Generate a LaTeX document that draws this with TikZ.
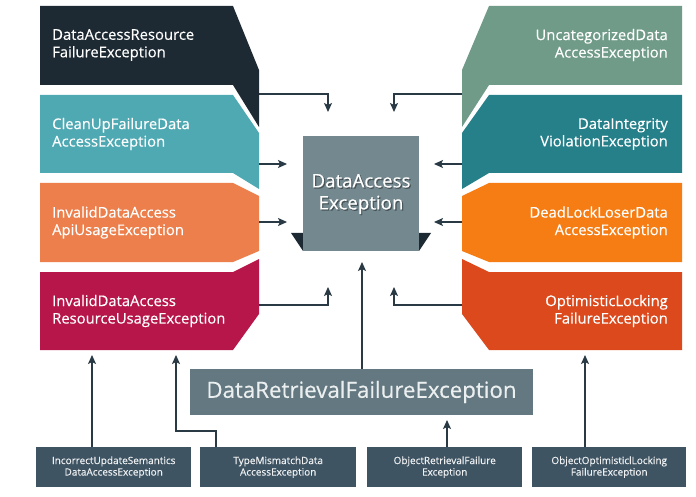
\documentclass[tikz,border=0pt]{standalone}
\usepackage{fontspec}
\setmainfont{Open Sans}[FakeBold=0.4]
\newfontfamily\boxfont{Open Sans}[FakeBold=0.35]
\usetikzlibrary{arrows.meta}
\definecolor{cLa}{HTML}{1E2A33}
\definecolor{cLb}{HTML}{4FA9B3}
\definecolor{cLc}{HTML}{EC7F4C}
\definecolor{cLd}{HTML}{B7164A}
\definecolor{cRa}{HTML}{709B88}
\definecolor{cRb}{HTML}{25808A}
\definecolor{cRc}{HTML}{F67D14}
\definecolor{cRd}{HTML}{DB491D}
\definecolor{cCenter}{HTML}{74888F}
\definecolor{cRetr}{HTML}{637880}
\definecolor{cSub}{HTML}{3E5462}
\definecolor{cLine}{HTML}{2A3A44}
\definecolor{cTri}{HTML}{1D2A33}
\tikzset{
  boxtext/.style={text=white, font=\boxfont\fontsize{14.8}{17.5}\selectfont, inner sep=0pt},
  ltext/.style={boxtext, anchor=west, align=left},
  rtext/.style={boxtext, anchor=east, align=right},
  subbox/.style={fill=cSub, text=white!92!cSub, font=\boxfont\fontsize{10}{11.5}\selectfont, align=center, inner sep=0pt, anchor=north west},
  conn/.style={draw=cLine, line width=1.4pt, -{Stealth[length=9pt,width=8pt,inset=2pt]}},
}
\begin{document}
\begin{tikzpicture}[x=1pt,y=-1pt]
\useasboundingbox (0,0) rectangle (696,497);
\fill[white] (0,0) rectangle (696,497);

% left boxes
\fill[cLa] (40,6) -- (233,6) -- (259,70) -- (259,127) -- (233,85) -- (40,85) -- cycle;
\fill[cLb] (40,95) -- (233,95) -- (259,133) -- (259,189) -- (233,173) -- (40,173) -- cycle;
\fill[cLc] (40,183) -- (233,183) -- (259,196) -- (259,251) -- (233,262) -- (40,262) -- cycle;
\fill[cLd] (40,272) -- (233,272) -- (259,259) -- (259,314) -- (233,350) -- (40,350) -- cycle;
% right boxes
\fill[cRa] (682,6) -- (489,6) -- (462,70) -- (462,127) -- (489,85) -- (682,85) -- cycle;
\fill[cRb] (682,95) -- (489,95) -- (462,133) -- (462,189) -- (489,173) -- (682,173) -- cycle;
\fill[cRc] (682,183) -- (489,183) -- (462,196) -- (462,251) -- (489,262) -- (682,262) -- cycle;
\fill[cRd] (682,272) -- (489,272) -- (462,259) -- (462,314) -- (489,350) -- (682,350) -- cycle;

\node[ltext] (l1) at (52,45) {DataAccessResource\\FailureException};
\node[ltext] (l2) at (52,134) {CleanUpFailureData\\AccessException};
\node[ltext] (l3) at (52,222.5) {InvalidDataAccess\\ApiUsageException};
\node[ltext] (l4) at (52,311) {InvalidDataAccess\\ResourceUsageException};
\node[rtext] (r1) at (668,45) {UncategorizedData\\AccessException};
\node[rtext] (r2) at (668,134) {DataIntegrity\\ViolationException};
\node[rtext] (r3) at (668,222.5) {DeadLockLoserData\\AccessException};
\node[rtext] (r4) at (668,311) {OptimisticLocking\\FailureException};

% central box with corner triangles
\fill[cTri] (291,233) -- (303,233) -- (303,251) -- cycle;
\fill[cTri] (419,233) -- (431,233) -- (419,251) -- cycle;
\node[fill=cCenter, minimum width=116pt, minimum height=115pt, inner sep=0pt] (dae) at (361,193.5) {};
\node[text=black, opacity=0.35, font=\fontsize{18.7}{22}\selectfont, align=center] at (362.2,195.2) {DataAccess\\Exception};
\node[text=white, font=\fontsize{18.7}{22}\selectfont, align=center] (daet) at (361,194) {DataAccess\\Exception};

% DataRetrievalFailureException
\node[fill=cRetr, minimum width=343pt, minimum height=46pt, inner sep=0pt, text=white!88!cRetr, font=\fontsize{22.3}{25}\selectfont] (drf) at (361.5,392) {DataRetrievalFailureException};

% bottom boxes
\node[subbox, minimum width=155pt, minimum height=40pt] (sa) at (36,447) {IncorrectUpdateSemantics\\DataAccessException};
\node[subbox, minimum width=156pt, minimum height=40pt] (sb) at (200,447) {TypeMismatchData\\AccessException};
\node[subbox, minimum width=155pt, minimum height=40pt] (sc) at (367,447) {ObjectRetrievalFailure\\Exception};
\node[subbox, minimum width=154pt, minimum height=40pt] (sd) at (532,447) {ObjectOptimisticlLocking\\FailureException};

% connector end points
\coordinate (l1o) at (259,94);   \coordinate (l1t) at (328,112);
\coordinate (l2o) at (259,164);  \coordinate (l2t) at (287,164);
\coordinate (l3o) at (259,222);  \coordinate (l3t) at (287,222);
\coordinate (l4o) at (259,305);  \coordinate (l4t) at (328,287);
\coordinate (r1o) at (462,94);   \coordinate (r1t) at (394,112);
\coordinate (r2o) at (462,164);  \coordinate (r2t) at (434,164);
\coordinate (r3o) at (462,222);  \coordinate (r3t) at (434,222);
\coordinate (r4o) at (462,305);  \coordinate (r4t) at (394,287);
\coordinate (dat) at (362,262);
\coordinate (l4b) at (92,355);
\coordinate (l4c) at (176,355);
\coordinate (sbk) at (216,431);
\coordinate (drb) at (447,420);
\coordinate (r4b) at (585,355);

\draw[conn] (l1o) -| (l1t);
\draw[conn] (l2o) -- (l2t);
\draw[conn] (l3o) -- (l3t);
\draw[conn] (l4o) -| (l4t);
\draw[conn] (r1o) -| (r1t);
\draw[conn] (r2o) -- (r2t);
\draw[conn] (r3o) -- (r3t);
\draw[conn] (r4o) -| (r4t);
\draw[conn] (drf.north -| dat) -- (dat);
\draw[conn] (sa.north -| l4b) -- (l4b);
\draw[conn] (sb.north -| sbk) -- (sbk) -| (l4c);
\draw[conn] (sc.north -| drb) -- (drb);
\draw[conn] (sd.north -| r4b) -- (r4b);
\end{tikzpicture}
\end{document}
